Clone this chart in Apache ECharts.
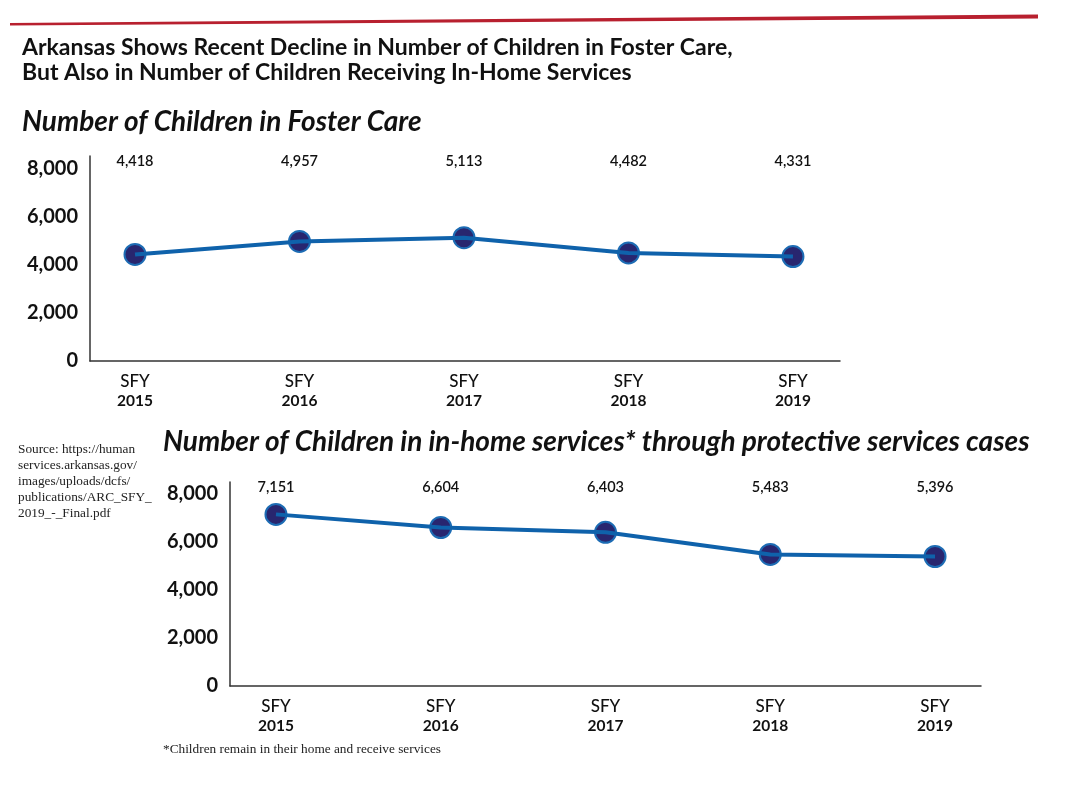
<!DOCTYPE html>
<html>
<head>
<meta charset="utf-8">
<script src="https://cdn.jsdelivr.net/npm/echarts@6/dist/echarts.min.js"></script>
<style>html,body{margin:0;padding:0;background:#fff}#c{width:1066px;height:792px}</style>
</head>
<body>
<div id="c"></div>
<script>
const categories = ['2015', '2016', '2017', '2018', '2019'];
const fosterCare = [4418, 4957, 5113, 4482, 4331];
const inHome = [7151, 6604, 6403, 5483, 5396];
const yTicks = [0, 2000, 4000, 6000, 8000];

const fmt = v => Number(v).toLocaleString('en-US');
const sans = 'Lato';
const chart = echarts.init(document.getElementById('c'));

function xAxis(gridIndex, min, max) {
  return {
    type: 'value', gridIndex, min, max,
    axisLine: {show: true, onZero: false, lineStyle: {color: '#333', width: 1.5}},
    axisTick: {show: false},
    splitLine: {show: false},
    axisLabel: {
      customValues: [0, 1, 2, 3, 4],
      margin: 11,
      formatter: v => '{a|SFY}\n{b|' + categories[Math.round(v)] + '}',
      rich: {
        a: {fontFamily: sans, fontSize: 17, fontWeight: 500, color: '#111', lineHeight: 19},
        b: {fontFamily: sans, fontSize: 15.5, fontWeight: 700, color: '#111', lineHeight: 19}
      }
    }
  };
}
function yAxis(gridIndex) {
  return {
    type: 'value', gridIndex, min: 0, max: 8500, interval: 2000,
    axisLine: {show: true, onZero: false, lineStyle: {color: '#333', width: 1.5}},
    axisTick: {show: false},
    splitLine: {show: false},
    axisLabel: {
      margin: 12,
      fontFamily: sans, fontSize: 20, fontWeight: 700, color: '#111',
      formatter: v => (yTicks.indexOf(v) >= 0 ? fmt(v) : '')
    }
  };
}
function seriesPair(idx, values, labelY) {
  const data = values.map((v, i) => [i, v]);
  return [{
    type: 'scatter', xAxisIndex: idx, yAxisIndex: idx, z: 2,
    data, symbol: 'circle', symbolSize: 21,
    itemStyle: {color: '#28266f', borderColor: '#1d6cb4', borderWidth: 2, opacity: 1},
    label: {
      show: true, formatter: p => fmt(p.value[1]),
      fontFamily: sans, fontSize: 14.5, fontWeight: 600, color: '#111'
    },
    labelLayout: () => ({y: labelY, verticalAlign: 'middle', align: 'center'}),
    emphasis: {disabled: true},
    animation: false
  }, {
    type: 'line', xAxisIndex: idx, yAxisIndex: idx, z: 3,
    data, showSymbol: false, symbol: 'none',
    lineStyle: {color: '#0f62ab', width: 4},
    emphasis: {disabled: true},
    animation: false
  }];
}

chart.setOption({
  animation: false,
  title: [
    {text: 'Arkansas Shows Recent Decline in Number of Children in Foster Care,\nBut Also in Number of Children Receiving In-Home Services',
     left: 17, top: 30, textStyle: {fontFamily: sans, fontSize: 23, fontWeight: 700, color: '#111', lineHeight: 25}},
    {text: 'Number of Children in Foster Care', left: 17, top: 103,
     textStyle: {fontFamily: sans, fontSize: 28, fontWeight: 700, fontStyle: 'italic', color: '#111'}},
    {text: 'Number of Children in in-home services* through protective services cases', left: 158, top: 423,
     textStyle: {fontFamily: sans, fontSize: 28, fontWeight: 700, fontStyle: 'italic', color: '#111'}},
    {text: 'Source: https://human\nservices.arkansas.gov/\nimages/uploads/dcfs/\npublications/ARC_SFY_\n2019_-_Final.pdf', left: 13, top: 437,
     textStyle: {fontFamily: 'Liberation Serif', fontSize: 13.3, fontWeight: 400, color: '#222', lineHeight: 16}},
    {text: '*Children remain in their home and receive services', left: 158, top: 738,
     textStyle: {fontFamily: 'Liberation Serif', fontSize: 13.3, fontWeight: 400, color: '#222'}}
  ],
  graphic: [{
    type: 'polygon', silent: true,
    shape: {points: [[10, 23], [1038, 14.5], [1038, 18.5], [10, 25.5]]},
    style: {fill: '#b8202f'}
  }],
  grid: [
    {left: 90, right: 226, top: 156, bottom: 431},
    {left: 230, right: 85, top: 482, bottom: 106}
  ],
  xAxis: [xAxis(0, -0.2736, 4.286), xAxis(1, -0.279, 4.279)],
  yAxis: [yAxis(0), yAxis(1)],
  series: [...seriesPair(0, fosterCare, 161), ...seriesPair(1, inHome, 487)]
});
</script>
</body>
</html>
